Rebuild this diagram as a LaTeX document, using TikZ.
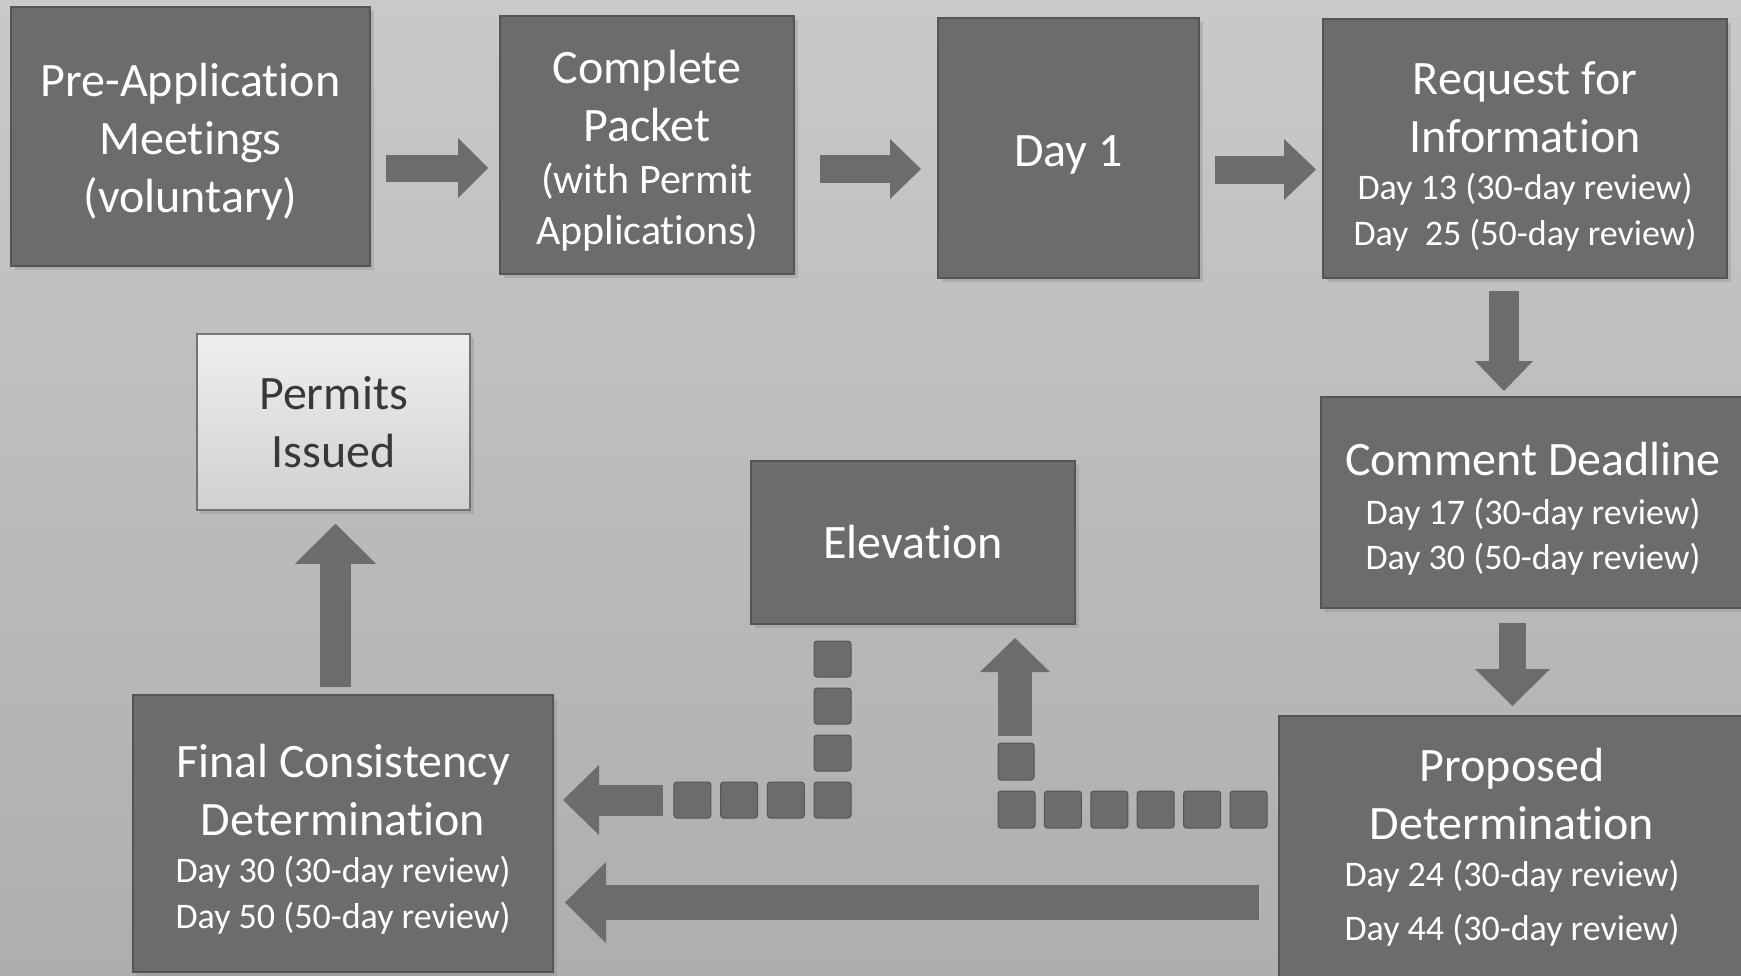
\documentclass[tikz,border=0pt]{standalone}
\usepackage{fontspec}
\setmainfont{Carlito}[Ligatures=NoCommon]
\usetikzlibrary{arrows.meta,shadows}
\definecolor{bgtop}{HTML}{C9C9C9}
\definecolor{bgmid}{HTML}{C6C6C6}
\definecolor{bgbot}{HTML}{AEAEAE}
\definecolor{boxfill}{HTML}{6C6C6C}
\definecolor{boxedge}{HTML}{555555}
\definecolor{paletop}{HTML}{EFEFEF}
\definecolor{palebot}{HTML}{D0D0D0}
\newcommand\smalltxt{\fontsize{36}{45}\selectfont}
\newcommand\midtxt{\fontsize{42}{51}\selectfont}
\newcommand\padtop[1]{\rule{0pt}{#1}}

\begin{document}
\begin{tikzpicture}[x=1pt,y=-1pt,
  stepbox/.style={draw=boxedge, line width=2pt, fill=boxfill, text=white, align=center,
    font=\fontsize{48}{58}\selectfont, inner sep=0pt,
    drop shadow={shadow xshift=4pt, shadow yshift=-4pt, opacity=.3}},
  blockarrow/.style n args={3}{draw=boxfill, line width=#1,
    -{Triangle[width=#2, length=#3, line width=0pt]}},
  dotsq/.style={fill=boxfill, draw=boxedge, line width=1pt, rounded corners=3pt}]
  \shade [top color=bgtop, middle color=bgmid, bottom color=bgbot] (0,0) rectangle (1741,975);
  \useasboundingbox (0,0) rectangle (1741,975);

  % top row
  \node [stepbox, minimum width=359pt, minimum height=259pt] (pre) at (190.5,136.5)
    {\padtop{43pt}Pre-Application\\Meetings\\(voluntary)};
  \node [stepbox, minimum width=294pt, minimum height=258pt] (packet) at (647,145)
    {\padtop{45pt}Complete\\Packet\\[-6pt]{\midtxt (with Permit}\\[-7pt]{\midtxt Applications)}};
  \node [stepbox, minimum width=261pt, minimum height=260pt] (dayone) at (1068.5,148)
    {\padtop{44pt}Day 1};
  \node [stepbox, minimum width=404pt, minimum height=259pt] (rfi) at (1525,148.5)
    {\padtop{49pt}Request for\\Information\\[-11pt]{\smalltxt Day 13 (30-day review)}\\[-12pt]{\smalltxt Day\ \ 25 (50-day review)}};

  % right column
  \node [stepbox, minimum width=424pt, minimum height=211pt] (comment) at (1533,502.5)
    {\padtop{46pt}Comment Deadline\\[-9pt]{\smalltxt Day 17 (30-day review)}\\[-13pt]{\smalltxt Day 30 (50-day review)}};
  \node [stepbox, minimum width=466pt, minimum height=262pt] (prop) at (1512,847)
    {Proposed\\Determination\\[-11pt]{\smalltxt Day 24 (30-day review)}\\[-4pt]{\smalltxt Day 44 (30-day review)}};

  % middle and left
  \node [stepbox, minimum width=324pt, minimum height=163pt] (elev) at (913,542.5) {Elevation};
  \node [stepbox, minimum width=420pt, minimum height=277pt] (final) at (343,833.5)
    {\padtop{44pt}Final Consistency\\Determination\\[-11pt]{\smalltxt Day 30 (30-day review)}\\[-12pt]{\smalltxt Day 50 (50-day review)}};
  \node [stepbox, draw=black!55, line width=1.5pt, top color=paletop, bottom color=palebot,
    text=black!78, minimum width=273pt, minimum height=176pt] (permits) at (333.5,422)
    {Permits\\Issued};

  % arrows
  \draw [blockarrow={27pt}{60pt}{30pt}] ([xshift=15pt,yshift=-31.5pt]pre.east) coordinate (a1)
    -- ([xshift=-11pt]a1 -| packet.west);
  \draw [blockarrow={28pt}{60pt}{31pt}] ([xshift=25pt,yshift=-24pt]packet.east) coordinate (a2)
    -- ([xshift=-16pt]a2 -| dayone.west);
  \draw [blockarrow={28pt}{61pt}{32pt}] ([xshift=15pt,yshift=-21.5pt]dayone.east) coordinate (a3)
    -- ([xshift=-6pt]a3 -| rfi.west);
  \draw [blockarrow={30pt}{58pt}{30pt}] ([xshift=-21pt,yshift=-12pt]rfi.south) coordinate (a4)
    -- ([yshift=5pt]a4 |- comment.north);
  \draw [blockarrow={27pt}{75pt}{37pt}] ([xshift=-20.5pt,yshift=-14pt]comment.south) coordinate (a5)
    -- ([yshift=9pt]a5 |- prop.north);
  \draw [blockarrow={35pt}{81pt}{41pt}] ([xshift=-19pt,yshift=-55.5pt]prop.west) coordinate (a6)
    -- ([xshift=11pt]a6 -| final.east);
  \draw [blockarrow={31pt}{81pt}{40pt}] ([xshift=-7.5pt,yshift=7pt]final.north) coordinate (a7)
    -- ([yshift=-13pt]a7 |- permits.south);

  % proposed to elevation
  \foreach \i in {0,...,5}
    \draw [dotsq] (998+46.4*\i,791) rectangle ++(37,37);
  \draw [dotsq] (998,743) rectangle ++(36,37);
  \coordinate (up) at (1015,736);
  \draw [blockarrow={34pt}{70pt}{34pt}] (up) -- ([yshift=-13pt]up |- elev.south);

  % elevation to final
  \foreach \i in {0,...,3}
    \draw [dotsq] (814,641+47*\i) rectangle ++(37,36);
  \foreach \i in {1,2,3}
    \draw [dotsq] (814-46.7*\i,782) rectangle ++(37,36);
  \coordinate (left) at (663,800);
  \draw [blockarrow={31pt}{70pt}{36pt}] (left) -- ([xshift=9pt]left -| final.east);
\end{tikzpicture}
\end{document}
